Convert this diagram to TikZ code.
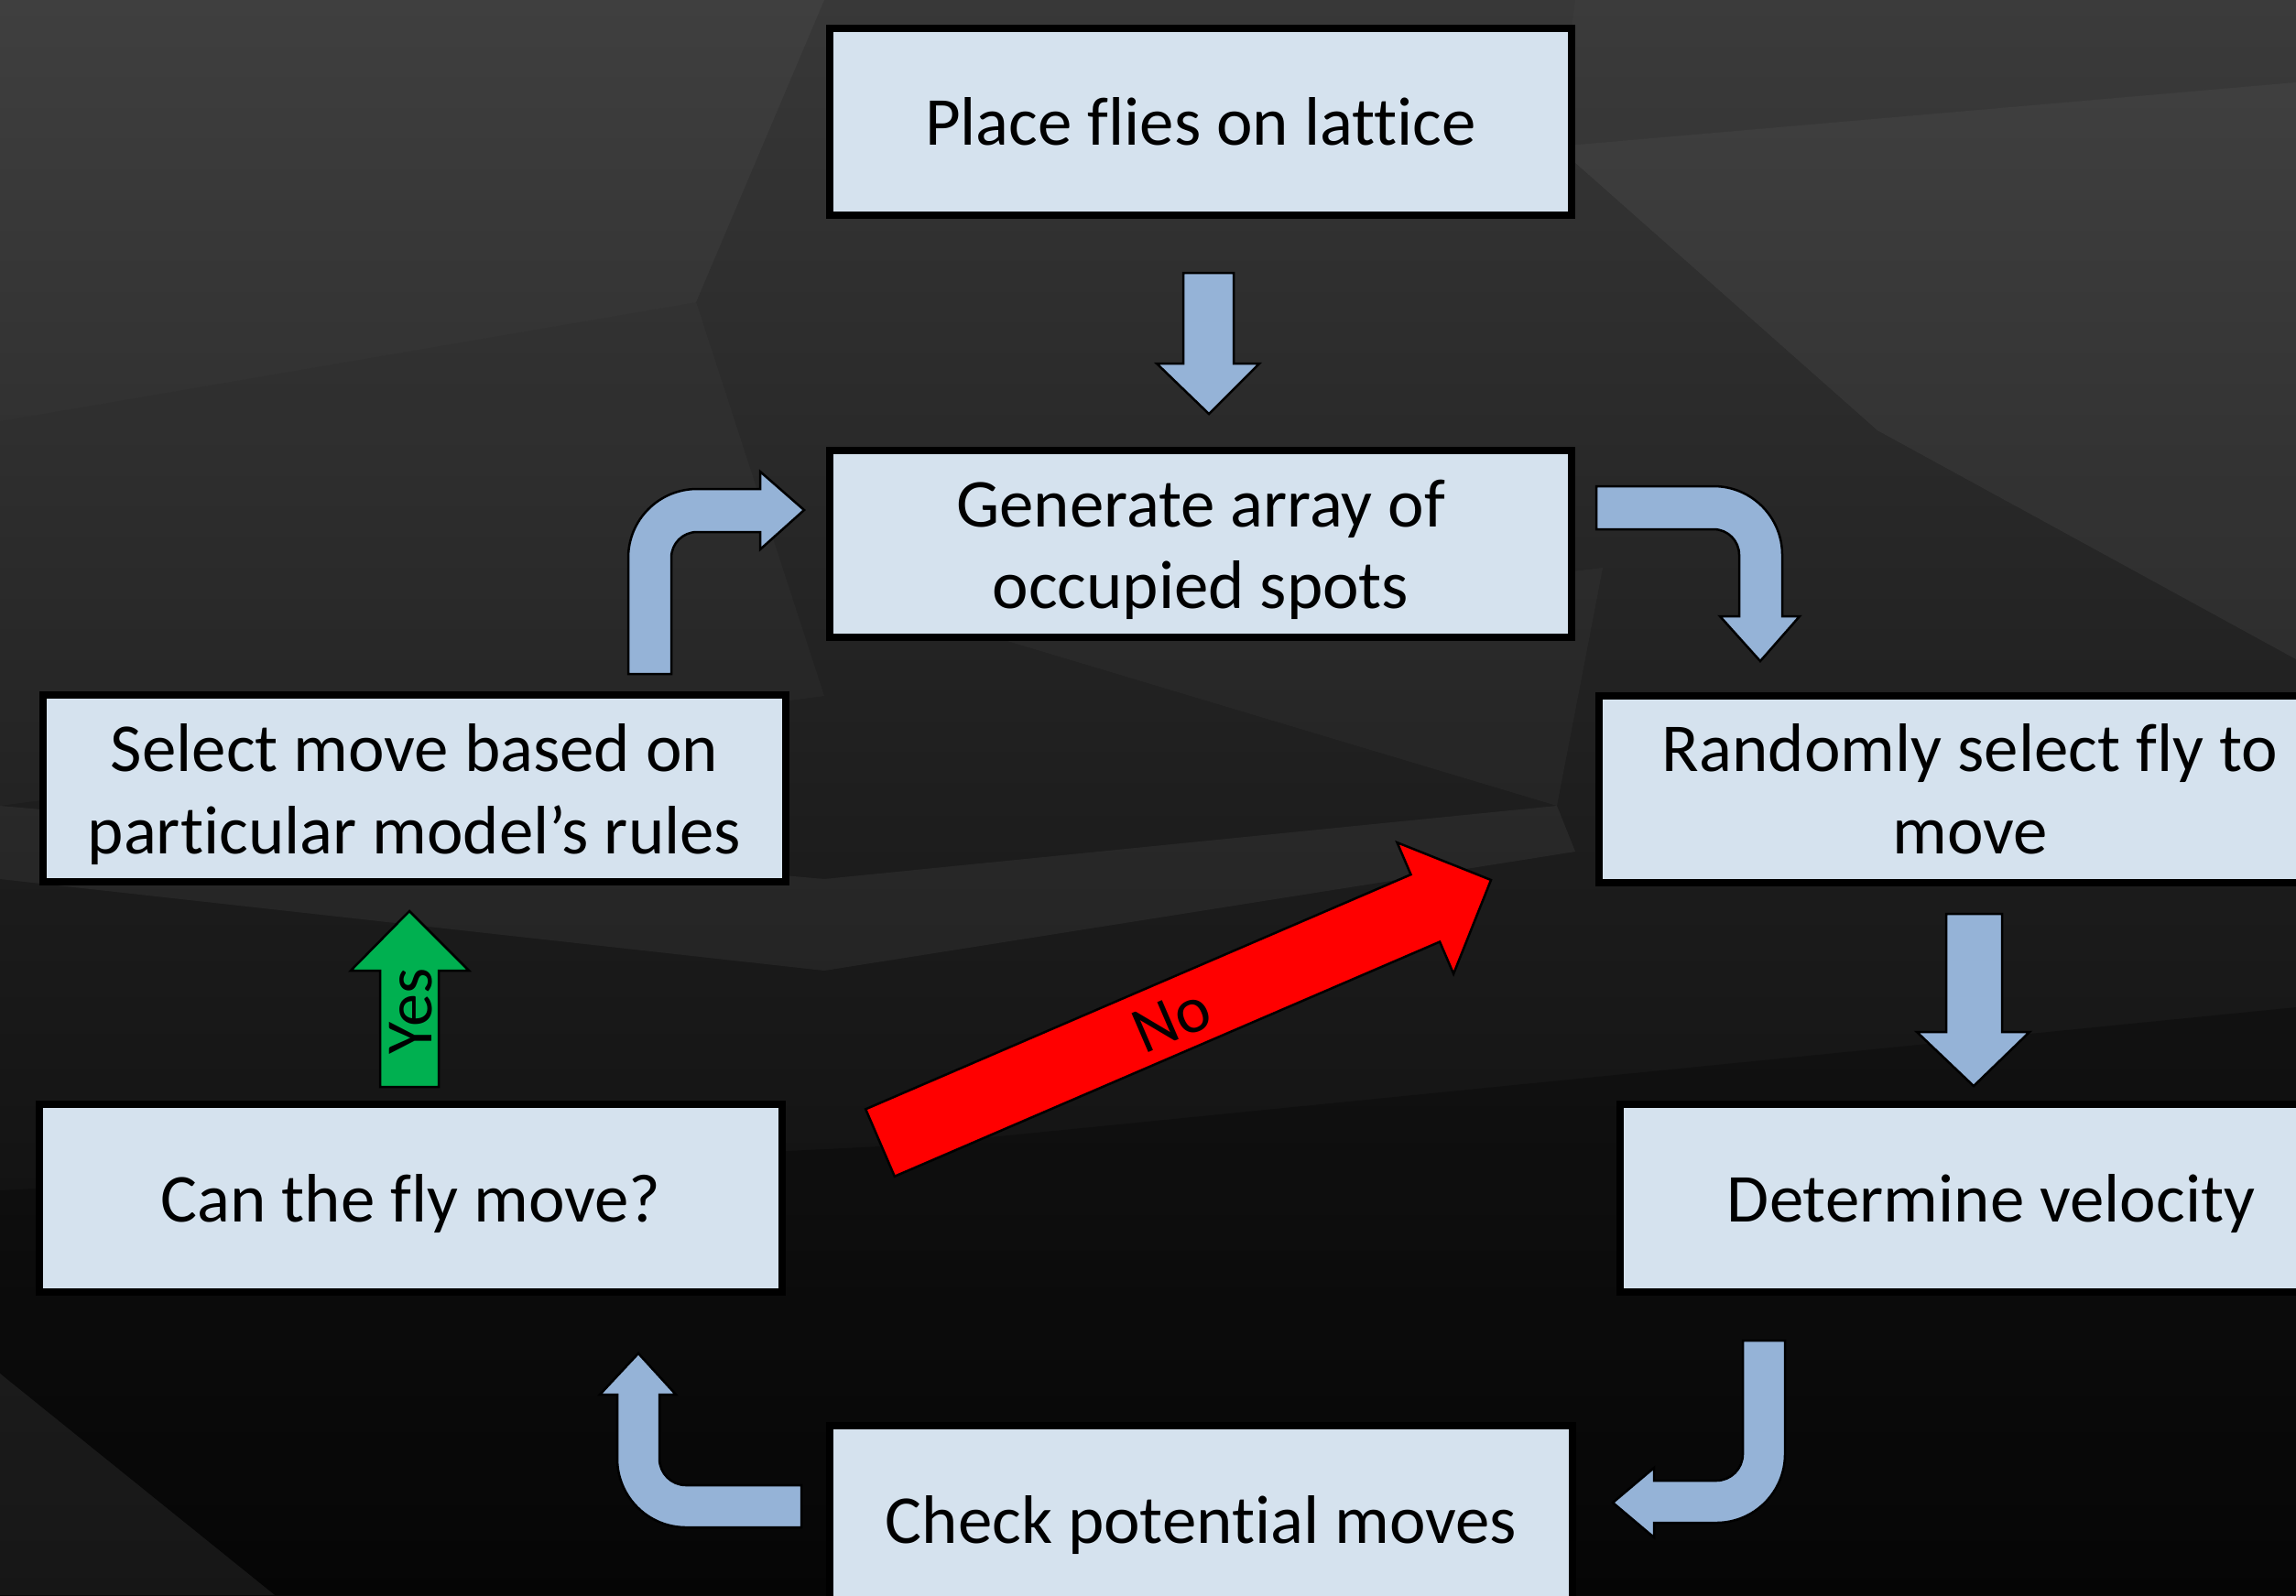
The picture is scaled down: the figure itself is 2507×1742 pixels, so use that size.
\documentclass[tikz,border=0pt]{standalone}
\usepackage{fontspec}
\setmainfont[Ligatures={NoCommon}]{Carlito}
\definecolor{boxfill}{RGB}{213,226,238}
\definecolor{arrfill}{RGB}{149,179,215}
\definecolor{yesgreen}{RGB}{0,176,80}
\definecolor{norede}{RGB}{255,0,0}
\definecolor{bgtop}{RGB}{56,56,56}
\definecolor{bgmid}{RGB}{30,30,30}
\definecolor{bgbot}{RGB}{8,8,8}
\newcommand{\lowertxt}{\rule{0pt}{18.3pt}}
\begin{document}
\begin{tikzpicture}[x=0.01cm,y=-0.01cm,
  box/.style={draw=black, line width=0.08cm, fill=boxfill, minimum width=8.10cm,
    minimum height=2.04cm, inner sep=0pt, align=center, text=black,
    font=\fontsize{21.3}{25.5}\selectfont},
  blockarrow/.style={draw=black, line width=0.025cm, fill=arrfill, line join=miter},
  facet/.style={fill=white, fill opacity=#1},
  dfacet/.style={fill=black, fill opacity=#1}]
\useasboundingbox (0,0) rectangle (2507,1742);
\clip (0,0) rectangle (2507,1742);
% background
\shade[top color=bgtop, bottom color=bgbot, middle color=bgmid] (0,0) rectangle (2507,1742);
\fill[facet=0.035] (0,0) -- (900,0) -- (760,330) -- (0,460) -- cycle;
\fill[facet=0.025] (0,460) -- (760,330) -- (900,760) -- (0,880) -- cycle;
\fill[facet=0.05] (1700,160) -- (2507,90) -- (2507,720) -- (2050,470) -- cycle;
\fill[facet=0.02] (1720,0) -- (2507,0) -- (2507,90) -- (1700,160) -- cycle;
\fill[facet=0.05] (0,880) -- (900,960) -- (1700,880) -- (1720,930) -- (900,1060) -- (0,960) -- cycle;
\fill[dfacet=0.25] (0,1300) -- (1000,1250) -- (2507,1100) -- (2507,1742) -- (0,1742) -- cycle;
\fill[facet=0.07] (0,1500) -- (300,1742) -- (0,1742) -- cycle;
\fill[facet=0.03] (1100,700) -- (1750,620) -- (1700,880) -- cycle;
% boxes
\node[box] (place) at (1311,133) {Place flies on lattice};
\node[box] (gen) at (1311,594) {\lowertxt Generate array of\\occupied spots};
\node[box] (rand) at (2151,862) {Randomly select fly to\\move};
\node[box] (det) at (2174,1308.5) {\lowertxt Determine velocity};
\node[box] (check) at (1311.5,1659) {\lowertxt Check potential moves};
\node[box] (can) at (448.5,1308.5) {\lowertxt Can the fly move?};
\node[box] (sel) at (452.5,861) {\lowertxt Select move based on\\particular model’s rules};
% straight down arrow: place -> gen
\draw[blockarrow] (1292,298) -- (1347,298) -- (1347,397) -- (1375,397) -- (1320,452)
  -- (1263,397) -- (1292,397) -- cycle;
% straight down arrow: rand -> det
\draw[blockarrow] (2125,998) -- (2186,998) -- (2186,1127) -- (2216,1127) -- (2155,1186)
  -- (2093,1127) -- (2125,1127) -- cycle;
% bent arrow: sel -> gen
\draw[blockarrow] (686,736) -- (686,609) .. controls (686,567.6) and (719.6,534) .. (761,534)
  -- (830,534) -- (830,515) -- (878,557) -- (830,600) -- (830,581) -- (761,581)
  .. controls (745.5,581) and (733,593.5) .. (733,609) -- (733,736) -- cycle;
% bent arrow: gen -> rand
\draw[blockarrow] (1743,531) -- (1871,531) .. controls (1912.4,531) and (1946,564.6) .. (1946,606)
  -- (1946,673) -- (1965,673) -- (1922,722) -- (1878,673) -- (1899,673) -- (1899,606)
  .. controls (1899,590.5) and (1886.5,578) .. (1871,578) -- (1743,578) -- cycle;
% bent arrow: det -> check
\draw[blockarrow] (1903,1464) -- (1949,1464) -- (1949,1588) .. controls (1949,1629.4) and (1915.4,1663) .. (1874,1663)
  -- (1806,1663) -- (1806,1679) -- (1761,1641) -- (1806,1603) -- (1806,1617) -- (1874,1617)
  .. controls (1890,1617) and (1903,1604) .. (1903,1588) -- cycle;
% bent arrow: check -> can
\draw[blockarrow] (875,1668) -- (749,1668) .. controls (707.6,1668) and (674,1634.4) .. (674,1593)
  -- (674,1523) -- (655,1523) -- (697,1478) -- (738,1523) -- (720,1523) -- (720,1593)
  .. controls (720,1609) and (733,1622) .. (749,1622) -- (875,1622) -- cycle;
% Yes arrow: can -> sel
\draw[blockarrow, fill=yesgreen] (415,1187) -- (479,1187) -- (479,1060) -- (512,1060) -- (447,995)
  -- (383,1060) -- (415,1060) -- cycle;
\node[rotate=90, text=black, font=\fontsize{20.5}{24}\selectfont] (yes) at (449,1104) {Yes};
% No arrow: can -> rand
\draw[blockarrow, fill=norede] (945.2,1211.3) -- (1540.5,955.1) -- (1525.5,920.1) -- (1628,961)
  -- (1587.1,1063.5) -- (1572.1,1028.5) -- (976.8,1284.7) -- cycle;
\node[rotate=23.3, text=black, font=\fontsize{20.5}{24}\selectfont] (no) at (1279,1114) {No};
\end{tikzpicture}
\end{document}
